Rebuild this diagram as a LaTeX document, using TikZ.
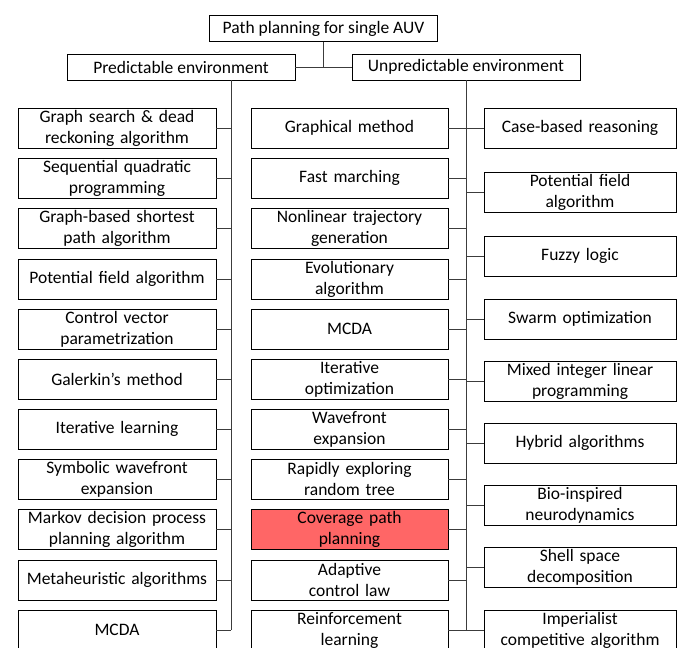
\documentclass[tikz,border=0pt]{standalone}
\usepackage{fontspec}
\setmainfont{Carlito}
\definecolor{hl}{RGB}{255,102,102}
\definecolor{lc}{RGB}{60,60,60}
\begin{document}
\begin{tikzpicture}[x=1pt,y=-1pt,
  box/.style={draw=black,line width=0.9pt,fill=white,minimum height=40pt,inner sep=1pt,align=center,font=\fontsize{17.5}{21}\selectfont},
  lbox/.style={box,minimum width=198pt,text width=194pt},
  mbox/.style={box,minimum width=197pt,text width=193pt},
  rbox/.style={box,minimum width=192pt,text width=188pt},
  hbox/.style={box,minimum height=26pt},
  conn/.style={draw=lc,line width=0.9pt}]
\useasboundingbox (0,0) rectangle (687,647);
\clip (0,0) rectangle (687,647);
% header
\node[hbox,minimum width=228pt] (top) at (323.5,28.5) {Path planning for single AUV};
\node[hbox,minimum width=228pt] (pred) at (181,67) {Predictable environment};
\node[hbox,minimum width=228pt] (unpred) at (466,67) {Unpredictable environment};
\coordinate (lvx) at (231,0);
\coordinate (rvx) at (466,0);
% left column
\node[lbox] (L1) at (117,128) {Graph search \& dead\\reckoning algorithm};
\node[lbox] (L2) at (117,178) {Sequential quadratic\\programming};
\node[lbox] (L3) at (117,228) {Graph-based shortest\\path algorithm};
\node[lbox] (L4) at (117,279) {Potential field algorithm};
\node[lbox] (L5) at (117,329) {Control vector\\parametrization};
\node[lbox] (L6) at (117,379) {Galerkin’s method};
\node[lbox] (L7) at (117,429) {Iterative learning};
\node[lbox] (L8) at (117,479) {Symbolic wavefront\\expansion};
\node[lbox] (L9) at (117,529) {Markov decision process\\planning algorithm};
\node[lbox] (L10) at (117,580) {Metaheuristic algorithms};
\node[lbox] (L11) at (117,630) {MCDA};
% middle column
\node[mbox] (M1) at (349.5,128) {Graphical method};
\node[mbox] (M2) at (349.5,178) {Fast marching};
\node[mbox] (M3) at (349.5,228) {Nonlinear trajectory\\generation};
\node[mbox] (M4) at (349.5,279) {Evolutionary\\algorithm};
\node[mbox] (M5) at (349.5,329) {MCDA};
\node[mbox] (M6) at (349.5,379) {Iterative\\optimization};
\node[mbox] (M7) at (349.5,429) {Wavefront\\expansion};
\node[mbox] (M8) at (349.5,479) {Rapidly exploring\\random tree};
\node[mbox,fill=hl] (M9) at (349.5,529) {Coverage path\\planning};
\node[mbox] (M10) at (349.5,580) {Adaptive\\control law};
\node[mbox] (M11) at (349.5,630) {Reinforcement\\learning};
% right column
\node[rbox] (R1) at (580,128) {Case-based reasoning};
\node[rbox] (R2) at (580,192) {Potential field\\algorithm};
\node[rbox] (R3) at (580,256) {Fuzzy logic};
\node[rbox] (R4) at (580,319) {Swarm optimization};
\node[rbox] (R5) at (580,381) {Mixed integer linear\\programming};
\node[rbox] (R6) at (580,443) {Hybrid algorithms};
\node[rbox] (R7) at (580,505) {Bio-inspired\\neurodynamics};
\node[rbox] (R8) at (580,567) {Shell space\\decomposition};
\node[rbox] (R9) at (580,630) {Imperialist\\competitive algorithm};
% header connectors
\draw[conn] (top.south) -- (top.south |- pred.east);
\draw[conn] (pred.east) -- (unpred.west);
% left trunk
\draw[conn] (pred.south -| lvx) -- (L11.east -| lvx);
\foreach \i in {1,...,11} \draw[conn] (L\i.east) -- (L\i.east -| lvx);
% right trunk
\draw[conn] (unpred.south) -- (M11.east -| rvx);
\foreach \i in {1,...,11} \draw[conn] (M\i.east) -- (M\i.east -| rvx);
\foreach \i in {1,...,9} \draw[conn] (R\i.west) -- (R\i.west -| rvx);
\end{tikzpicture}
\end{document}
